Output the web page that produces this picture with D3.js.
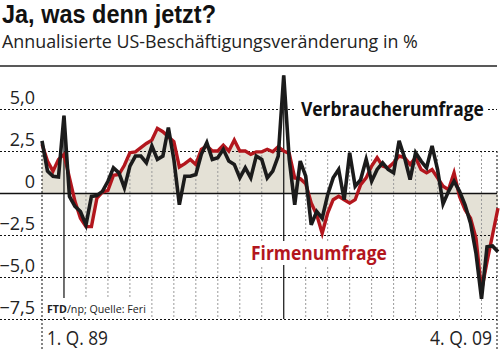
<!DOCTYPE html>
<html>
<head>
<meta charset="utf-8">
<script src="https://cdn.jsdelivr.net/npm/d3@7"></script>
<style>
  body { margin: 0; background: #fff; }
  svg { display: block; font-family: "Open Sans", "DejaVu Sans", sans-serif; }
</style>
</head>
<body>
<div id="chart"></div>
<script>
// ---- Data: quarterly, 1. Q. 1989 .. 4. Q. 2009 ----
const startYear = 1989;
const quarterCount = 84;

// Verbraucherumfrage (household survey), black
const consumerSurvey = [
  3.1, 1.3, 1.0, 0.95, 4.6, -0.2, -0.8, -1.1, -1.9, -0.2, -0.15, 0.1,
  0.7, 1.5, 1.2, 0.3, 1.6, 2.2, 2.2, 1.8, 2.8, 2.0, 2.2, 3.9,
  2.0, -0.7, 1.0, 1.0, 1.1, 2.3, 3.0, 2.0, 2.1, 2.6, 1.9, 1.7,
  0.9, 1.5, 0.9, 2.2, 2.0, 0.9, 1.3, 2.2, 7.0, 2.0, -0.7, 1.9,
  1.0, -1.9, -1.1, -1.5, -0.1, 0.9, 1.4, -0.4, 2.4, 0.4, 0.8, 2.0,
  0.7, 1.4, 1.8, 1.4, 1.2, 3.1, 2.1, 0.8, 2.4, 1.9, 1.5, 2.8,
  1.4, -0.65, 0.1, 0.7, 0.1, -0.7, -1.8, -3.6, -6.3, -3.2, -3.15, -3.5
];

// Firmenumfrage (establishment survey), red
const firmSurvey = [
  2.9, 1.9, 1.3, 2.0, 2.3, 0.9, -0.5, -1.5, -2.0, -2.0, -0.3, 0.05,
  0.15, 1.05, 1.1, 1.65, 2.4, 2.45, 2.7, 2.95, 3.15, 3.85, 3.65, 3.35,
  3.05, 1.55, 1.75, 2.0, 1.7, 2.6, 2.8, 2.5, 2.5, 2.85, 2.5, 3.15,
  2.5, 2.5, 2.3, 2.45, 2.45, 2.6, 2.45, 2.75, 2.5, 2.35, 0.9, 0.85,
  0.55, -0.6, -1.3, -2.4, -1.2, -0.4, -0.2, -0.4, -0.6, -0.4, 0.5, 0.9,
  1.6, 2.1, 1.6, 1.5, 1.8, 2.2, 2.1, 1.7, 2.1, 1.4, 1.2, 1.4,
  0.9, 0.4, 0.2, 1.2, -0.2, -1.0, -1.5, -2.7, -5.8, -4.1, -2.5, -0.9
];

const yTickValues = [5, 2.5, 0, -2.5, -5, -7.5];
const yTickLabels = ["5,0", "2,5", "0", "\u22122,5", "\u22125,0", "\u22127,5"];
const periodLabels = ["1. Q. 89", "4. Q. 09"];
const decadeStarts = [1990, 2000];

const title = "Ja, was denn jetzt?";
const subtitle = "Annualisierte US-Beschäftigungsveränderung in %";
const seriesNames = ["Verbraucherumfrage", "Firmenumfrage"];
const source = ["FTD", "/np; Quelle: Feri"];

const RED = "#b3161d";
const BLACK = "#1b1b1b";
const FILL = "#e4e1d6";

// ---- Canvas ----
const W = 500, H = 351;
const svg = d3.select("#chart").append("svg")
  .attr("width", W).attr("height", H);

// ---- Scales ----
const x = d3.scaleLinear().domain([0, quarterCount - 1]).range([42, 498]);
const y = d3.scaleLinear().domain([-7.5, 5]).range([319, 109]);
const qIndex = (year, q) => (year - startYear) * 4 + (q - 1);
const rightEdge = 497;

// squeeze a text horizontally to a given width (condensed look of the original)
function fit(text, x0, width, anchor) {
  const w = text.node().getComputedTextLength();
  const left = anchor === "end" ? x0 - width : x0;
  text.attr("x", 0).attr("text-anchor", "start")
    .attr("transform", `translate(${left},0) scale(${width / w},1)`);
  return text;
}

// ---- Title ----
fit(svg.append("text")
  .attr("y", 22.5)
  .style("font-size", "25px").style("font-weight", "700").style("fill", "#111")
  .style("font-family", "'Liberation Sans', sans-serif")
  .text(title), 2, 214);

fit(svg.append("text")
  .attr("y", 48)
  .style("font-size", "19px").style("fill", "#222")
  .text(subtitle), 2, 416);

svg.append("line")
  .attr("x1", 0).attr("x2", rightEdge).attr("y1", 66).attr("y2", 66)
  .attr("stroke", "#222").attr("stroke-width", 1.3);

// ---- Area under Firmenumfrage ----
svg.append("path")
  .datum(firmSurvey)
  .attr("d", d3.area().x((d, i) => x(i)).y0(y(0)).y1(d => y(d)))
  .attr("fill", FILL);

// ---- Vertical gridlines (one per year) ----
const yearIdx = d3.range(1, 21).map(k => qIndex(startYear + k, 1))
  .filter(i => !decadeStarts.some(dy => qIndex(dy, 1) === i));

svg.selectAll("line.vgrid")
  .data(yearIdx)
  .join("line")
  .attr("class", "vgrid")
  .attr("x1", d => x(d)).attr("x2", d => x(d))
  .attr("y1", y(2.5)).attr("y2", y(-7.5))
  .attr("stroke", "#9a9a9a").attr("stroke-width", 1)
  .attr("stroke-dasharray", "2,2");

// left / right frame (dark dotted, down to the bottom)
svg.selectAll("line.frame")
  .data([x(0), rightEdge])
  .join("line")
  .attr("class", "frame")
  .attr("x1", d => d).attr("x2", d => d)
  .attr("y1", y(2.5)).attr("y2", H)
  .attr("stroke", "#222").attr("stroke-width", 1.1)
  .attr("stroke-dasharray", "2,2");

// decade markers
svg.selectAll("line.decade")
  .data(decadeStarts)
  .join("line")
  .attr("class", "decade")
  .attr("x1", d => x(qIndex(d, 1))).attr("x2", d => x(qIndex(d, 1)))
  .attr("y1", d => y(consumerSurvey[qIndex(d, 1)])).attr("y2", y(-7.5))
  .attr("stroke", "#111").attr("stroke-width", 1.2);

// ---- Horizontal gridlines + labels via axis ----
const yAxis = d3.axisRight(y)
  .tickValues(yTickValues)
  .tickSize(rightEdge)
  .tickFormat((d, i) => yTickLabels[i]);

const gy = svg.append("g").call(yAxis);
gy.select(".domain").remove();
gy.selectAll(".tick line")
  .attr("stroke", "#111")
  .attr("stroke-width", d => d === 0 ? 1.3 : 1.1)
  .attr("stroke-dasharray", d => d === 0 ? null : "2,2");
gy.selectAll(".tick text")
  .attr("x", 35).attr("dy", "-6px")
  .attr("text-anchor", "end")
  .style("font-family", "'Open Sans', sans-serif")
  .style("font-size", "18px")
  .style("fill", "#222");

// ---- Lines ----
const line = d3.line().x((d, i) => x(i)).y(d => y(d));

svg.append("path")
  .datum(firmSurvey)
  .attr("d", line)
  .attr("fill", "none")
  .attr("stroke", RED).attr("stroke-width", 3.4)
  .attr("stroke-linejoin", "miter");

svg.append("path")
  .datum(consumerSurvey)
  .attr("d", line)
  .attr("fill", "none")
  .attr("stroke", BLACK).attr("stroke-width", 3.6)
  .attr("stroke-linejoin", "miter");

// ---- Series labels (white background) ----
function label(txt, lx, ly, anchor, len, size, color, box) {
  svg.append("rect")
    .attr("x", box[0]).attr("y", box[1]).attr("width", box[2]).attr("height", box[3])
    .attr("fill", "#fff");
  const t = svg.append("text")
    .attr("y", ly)
    .style("font-size", size + "px").style("font-weight", 700).style("fill", color)
    .text(txt);
  return fit(t, lx, len, anchor);
}

label(seriesNames[0], 484, 116, "end", 183, 20, "#111", [296, 99, 192, 21]);
label(seriesNames[1], 251, 260, "start", 136, 20, RED, [247, 241, 144, 24]);

// source note
svg.append("rect").attr("x", 44).attr("y", 298).attr("width", 106).attr("height", 19).attr("fill", "#fff");
const src = svg.append("text")
  .attr("y", 313)
  .style("font-size", "11px").style("fill", "#222");
src.append("tspan").style("font-weight", "700").text(source[0]);
src.append("tspan").text(source[1]);
fit(src, 47, 99);

// ---- Period labels ----
fit(svg.append("text")
  .attr("y", 344.8)
  .style("font-size", "20px").style("fill", "#222")
  .text(periodLabels[0]), 47, 61);

fit(svg.append("text")
  .attr("y", 344.8)
  .style("font-size", "20px").style("fill", "#222")
  .text(periodLabels[1]), 492, 62, "end");
</script>
</body>
</html>
